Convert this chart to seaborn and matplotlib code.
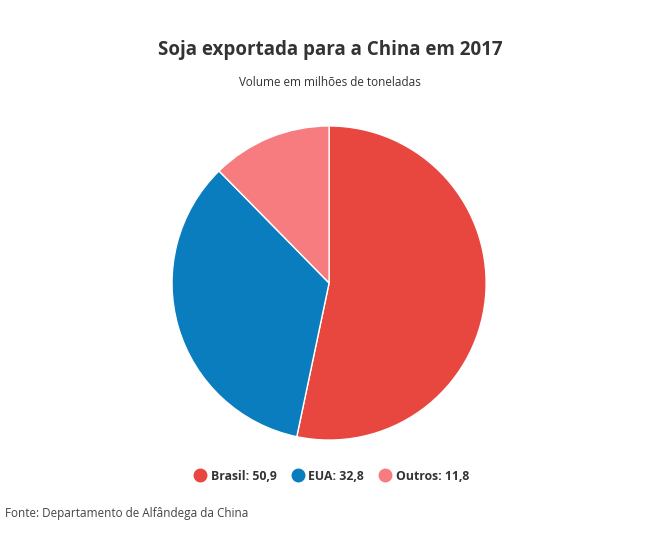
import matplotlib
matplotlib.use("Agg")
import matplotlib.pyplot as plt
from matplotlib.lines import Line2D
import seaborn as sns

# Data
paises = ["Brasil", "EUA", "Outros"]
volumes = [50.9, 32.8, 11.8]
cores = ["#E8473F", "#0A7DBE", "#F77C80"]

sns.set_theme(style="white", font="Open Sans")

fig = plt.figure(figsize=(6.6, 5.36), dpi=100)
ax = fig.add_axes([0.2606, 0.179, 0.476, 0.586])
ax.pie(volumes, colors=cores, startangle=90, counterclock=False,
       wedgeprops=dict(edgecolor="white", linewidth=1))
ax.set_aspect("equal")
ax.set_xlim(-1, 1)
ax.set_ylim(-1, 1)

fig.text(0.5, 1 - 50 / 536, "Soja exportada para a China em 2017", ha="center", va="center",
         fontsize=13.5, fontweight="bold", color="#333333")
fig.text(0.5, 1 - 83 / 536, "Volume em milhões de toneladas", ha="center", va="center",
         fontsize=8.5, color="#333333")

handles = [Line2D([], [], marker="o", linestyle="", markersize=9, color=c) for c in cores]
labels = [f"{p}: {str(v).replace('.', ',')}" for p, v in zip(paises, volumes)]
leg = fig.legend(handles, labels, loc="center", bbox_to_anchor=(0.5, 1 - 476 / 536), ncol=3,
                 frameon=False, handletextpad=0.1, columnspacing=1.0, handlelength=1.5,
                 prop=dict(size=8.8, weight="bold"))
for t in leg.get_texts():
    t.set_color("#333333")

fig.text(5 / 660, 1 - 514 / 536, "Fonte: Departamento de Alfândega da China", ha="left", va="center",
         fontsize=8.5, color="#444444")

fig.savefig("out.png", dpi=100)
